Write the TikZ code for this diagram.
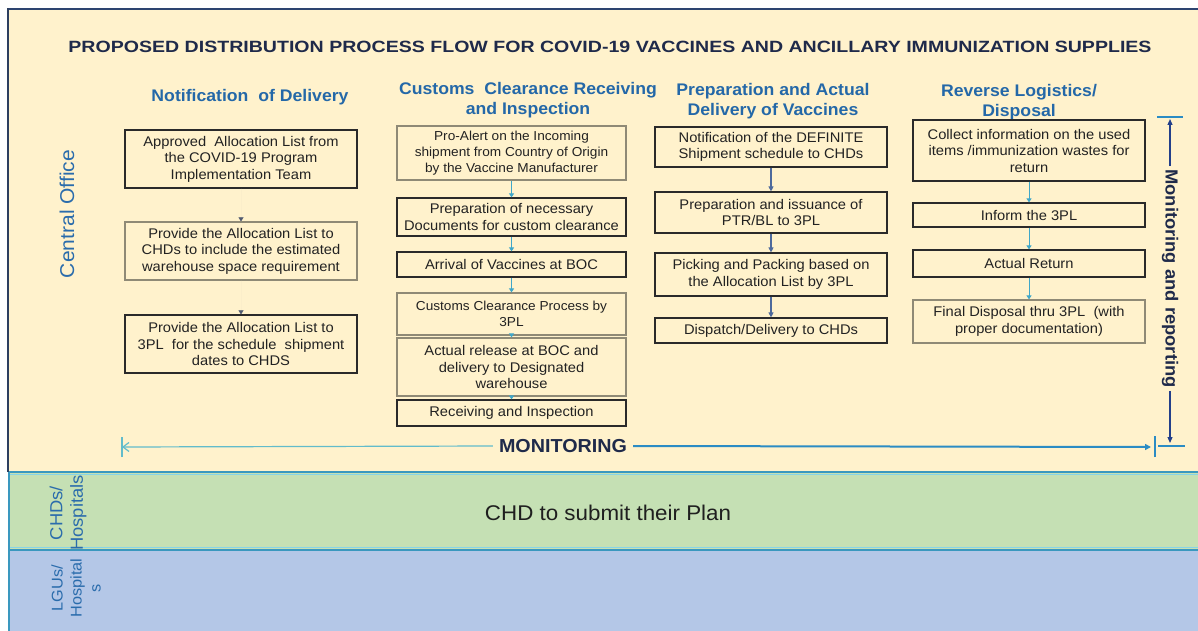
\documentclass[tikz,border=0pt]{standalone}
\usepackage{fontspec}
\setmainfont{Liberation Sans}[FakeStretch=1.05]
\newfontfamily\titlefont{Liberation Sans}[FakeStretch=1.2]
\usetikzlibrary{arrows.meta}
\definecolor{beige}{HTML}{FFF2CC}
\definecolor{lanegreen}{HTML}{C5E0B4}
\definecolor{laneblue}{HTML}{B4C7E7}
\definecolor{navy}{HTML}{1F2A4A}
\definecolor{headblue}{HTML}{2468A8}
\definecolor{labblue}{HTML}{2A6CAC}
\definecolor{cyanarr}{HTML}{3FA7C9}
\definecolor{slatearr}{HTML}{4E6A9C}
\definecolor{monleft}{HTML}{62BCCB}
\definecolor{monright}{HTML}{2B8CC4}
\definecolor{vline}{HTML}{23408A}
\definecolor{boxline}{HTML}{2A2A2A}
\definecolor{boxlight}{HTML}{8F8A76}
\definecolor{boxtext}{HTML}{222222}
\definecolor{sepdark}{HTML}{3A98BF}
\definecolor{seplight}{HTML}{86D4E8}
\definecolor{faint}{HTML}{FBEECA}
\definecolor{tipgray}{HTML}{505A70}
\definecolor{topline}{HTML}{2D4470}
\definecolor{leftline}{HTML}{2D3F5F}
\tikzset{
  box/.style={draw=boxline, line width=1.2pt, align=center, inner sep=0pt,
    text=boxtext, font=\fontsize{14}{16.5}\selectfont},
  lbox/.style={box, draw=boxlight},
  small/.style={font=\fontsize{13}{16}\selectfont},
  head/.style={text=headblue, align=center, font=\fontsize{16.8}{19.5}\selectfont\bfseries},
  cyarrow/.style={draw=cyanarr, line width=1pt, -{Triangle[length=4pt,width=5pt]}},
  slarrow/.style={draw=slatearr, line width=1.1pt, -{Triangle[length=5pt,width=5pt]}},
  fnarrow/.style={draw=faint, line width=0.5pt, -{Triangle[length=4pt,width=5pt,color=tipgray]}},
  lanelabel/.style={text=labblue, align=center},
}
\begin{document}
\begin{tikzpicture}[x=1pt,y=-1pt]
\useasboundingbox (0,0) rectangle (1198,631);
\fill[white] (0,0) rectangle (1198,631);
% lanes
\fill[beige] (8,9) rectangle (1198,472);
\fill[lanegreen] (8,472) rectangle (1198,550);
\fill[laneblue] (8,550) rectangle (1198,631);
\draw[sepdark, line width=2pt] (9,472) -- (1198,472);
\draw[seplight, line width=1pt] (9,474.5) -- (1198,474.5);
\draw[sepdark, line width=2.5pt] (9,550) -- (1198,550);
\draw[seplight, line width=1pt] (9,547) -- (1198,547);
\draw[topline, line width=1.5pt] (8,9) -- (1198,9);
\draw[leftline, line width=2pt] (8,8.3) -- (8,472);
\draw[sepdark, line width=2pt] (9,472) -- (9,631);

% title
\node[text=navy, font=\titlefont\fontsize{16.3}{19}\selectfont\bfseries] (title) at (610,47)
  {PROPOSED DISTRIBUTION PROCESS FLOW FOR COVID-19 VACCINES AND ANCILLARY IMMUNIZATION SUPPLIES};

% lane labels
\node[lanelabel, rotate=90, font=\fontsize{20}{22}\selectfont] (central) at (67,214) {Central Office};
\node[lanelabel, rotate=90, font=\fontsize{17.5}{20.5}\selectfont] (chds) at (68,513) {CHDs/\\Hospitals};
\node[lanelabel, rotate=90, font=\fontsize{15.5}{19}\selectfont] (lgus) at (76,588) {LGUs/\\Hospital\\s};
\node[text=black!88, font=\fontsize{21.3}{24}\selectfont] (plan) at (608,513) {CHD to submit their Plan};

% headers
\node[head] (h1) at (250,97) {Notification\ \ of Delivery};
\node[head] (h2) at (528,100) {Customs\ \ Clearance Receiving\\and Inspection};
\node[head] (h3) at (773,101) {Preparation and Actual\\Delivery of Vaccines};
\node[head] (h4) at (1019,102) {Reverse Logistics/\\Disposal};

% column 1
\node[box, minimum width=232pt, minimum height=58pt] (a1) at (241,159)
  {Approved\ \ Allocation List from\\the COVID-19 Program\\Implementation Team};
\node[lbox, minimum width=232pt, minimum height=58pt] (a2) at (241,251)
  {Provide the Allocation List to\\CHDs to include the estimated\\warehouse space requirement};
\node[box, minimum width=232pt, minimum height=58pt] (a3) at (241,344)
  {Provide the Allocation List to\\3PL\ \ for the schedule\ \ shipment\\dates to CHDS};
\draw[fnarrow] (a1.south) -- (a2.north);
\draw[fnarrow] (a2.south) -- (a3.north);

% column 2
\node[lbox, small, minimum width=229pt, minimum height=54pt] (b1) at (511.5,153)
  {Pro-Alert on the Incoming\\shipment from Country of Origin\\by the Vaccine Manufacturer};
\node[box, minimum width=229pt, minimum height=38pt] (b2) at (511.5,217)
  {Preparation of necessary\\Documents for custom clearance};
\node[box, minimum width=229pt, minimum height=25pt] (b3) at (511.5,264.5)
  {Arrival of Vaccines at BOC};
\node[lbox, small, minimum width=229pt, minimum height=42pt] (b4) at (511.5,314)
  {Customs Clearance Process by\\3PL};
\node[lbox, minimum width=229pt, minimum height=58pt] (b5) at (511.5,367)
  {Actual release at BOC and\\delivery to Designated\\warehouse};
\node[box, minimum width=229pt, minimum height=26pt] (b6) at (511.5,413)
  {Receiving and Inspection};
\draw[cyarrow] (b1.south) -- (b2.north);
\draw[cyarrow] (b2.south) -- (b3.north);
\draw[cyarrow] (b3.south) -- (b4.north);
\draw[cyarrow] (b4.south) -- (b5.north);
\draw[cyarrow] (b5.south) -- (b6.north);

% column 3
\node[box, minimum width=232pt, minimum height=40pt] (c1) at (771,147)
  {Notification of the DEFINITE\\Shipment schedule to CHDs};
\node[box, minimum width=232pt, minimum height=41pt] (c2) at (771,212.5)
  {Preparation and issuance of\\PTR/BL to 3PL};
\node[box, minimum width=232pt, minimum height=43pt] (c3) at (771,274.5)
  {Picking and Packing based on\\the Allocation List by 3PL};
\node[box, minimum width=232pt, minimum height=25pt] (c4) at (771,330.5)
  {Dispatch/Delivery to CHDs};
\draw[slarrow] (c1.south) -- (c2.north);
\draw[slarrow] (c2.south) -- (c3.north);
\draw[slarrow] (c3.south) -- (c4.north);

% column 4
\node[box, minimum width=232pt, minimum height=61pt] (d1) at (1029,150.5)
  {Collect information on the used\\items /immunization wastes for\\return};
\node[box, minimum width=232pt, minimum height=24pt] (d2) at (1029,215)
  {Inform the 3PL};
\node[box, minimum width=232pt, minimum height=27pt] (d3) at (1029,263.5)
  {Actual Return};
\node[lbox, minimum width=232pt, minimum height=43pt] (d4) at (1029,321.5)
  {Final Disposal thru 3PL\ \ (with\\proper documentation)};
\draw[cyarrow] (d1.south) -- (d2.north);
\draw[cyarrow] (d2.south) -- (d3.north);
\draw[cyarrow] (d3.south) -- (d4.north);

% horizontal monitoring
\node[text=navy, inner sep=6pt, font=\fontsize{18.8}{21}\selectfont\bfseries] (mon) at (563,446) {MONITORING};
\coordinate (ml) at (122,447);
\coordinate (mr) at (1151,447);
\coordinate (mrbar) at (1155,447);
\draw[monleft, line width=1.2pt, -{Straight Barb[length=6pt,width=9pt]}] (mon.west) -- (ml);
\draw[monleft, line width=1.4pt] ([yshift=-10pt]ml) -- ([yshift=10pt]ml);
\draw[monright, line width=2pt, -{Triangle[length=6pt,width=6pt]}] (mon.east) -- (mr);
\draw[monright, line width=1.4pt] ([yshift=-10pt]mrbar) -- ([yshift=11pt]mrbar);

% vertical monitoring and reporting
\node[text=navy, rotate=-90, inner sep=3pt, font=\fontsize{17.5}{20}\selectfont\bfseries] (rep) at (1170,278.5) {Monitoring and reporting};
\coordinate (vt) at (1170,119);
\coordinate (vb) at (1170,443);
\coordinate (vtbar) at (1170,117);
\coordinate (vbbar) at (1171,446);
\draw[vline, line width=1.2pt, -{Triangle[length=6pt,width=5pt]}] (rep.west) -- (vt);
\draw[vline, line width=1.2pt, -{Triangle[length=6pt,width=5pt]}] (rep.east) -- (vb);
\draw[monright, line width=1.6pt] ([xshift=-13pt]vtbar) -- ([xshift=13pt]vtbar);
\draw[monright, line width=1.6pt] ([xshift=-13pt]vbbar) -- ([xshift=14pt]vbbar);
\end{tikzpicture}
\end{document}
